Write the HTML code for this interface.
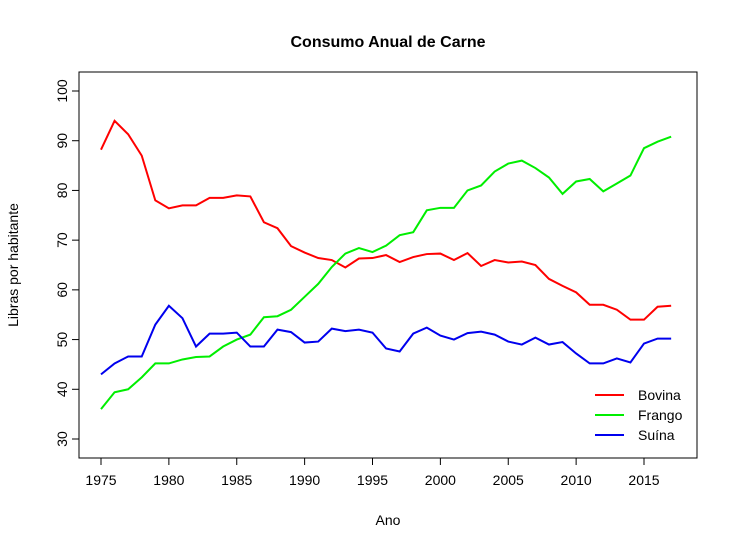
<!DOCTYPE html>
<html><head><meta charset="utf-8"><style>body{margin:0;background:#fff}svg{display:block}text{font-family:"Liberation Sans",Arial,sans-serif;fill:#000}</style></head>
<body>
<svg id="c" width="738" height="550">
<rect width="738" height="550" fill="#fff"/>
<text x="388" y="47" font-size="16" font-weight="bold" text-anchor="middle">Consumo Anual de Carne</text>
<rect x="79" y="72" width="618" height="386" fill="none" stroke="#000" stroke-width="1"/>
<text x="388" y="525" font-size="14" text-anchor="middle">Ano</text>
<text transform="translate(18,265) rotate(-90)" font-size="14" text-anchor="middle">Libras por habitante</text>
<g id="axes"></g><g id="series"></g>
<g>
<line x1="595" y1="395" x2="624" y2="395" stroke="#ff0000" stroke-width="2"/><text x="638" y="400" font-size="14">Bovina</text>
<line x1="595" y1="415" x2="624" y2="415" stroke="#00ee00" stroke-width="2"/><text x="638" y="420" font-size="14">Frango</text>
<line x1="595" y1="435" x2="624" y2="435" stroke="#0000ee" stroke-width="2"/><text x="638" y="440" font-size="14">Suína</text>
</g>
</svg>
<script>
const years=[];for(let y=1975;y<=2017;y++)years.push(y);
const bovina=[88.2,94,91.3,87,78,76.4,77,77,78.5,78.5,79,78.8,73.6,72.4,68.8,67.5,66.4,66,64.5,66.3,66.4,67,65.6,66.6,67.2,67.3,66,67.4,64.8,66,65.5,65.7,65,62.2,60.8,59.5,57,57,56,54,54,56.6,56.8];
const frango=[36,39.4,40,42.4,45.2,45.2,46,46.5,46.6,48.6,50,51,54.5,54.7,56,58.6,61.2,64.6,67.3,68.4,67.6,68.9,71,71.6,76,76.5,76.5,80,81,83.8,85.4,86,84.5,82.6,79.3,81.8,82.3,79.8,81.4,83,88.5,89.8,90.8];
const suina=[43,45.2,46.6,46.6,53,56.8,54.3,48.6,51.2,51.2,51.4,48.6,48.6,52,51.5,49.4,49.6,52.2,51.7,52,51.4,48.2,47.6,51.2,52.4,50.8,50,51.3,51.6,51,49.6,49,50.4,49,49.5,47.2,45.2,45.2,46.2,45.4,49.2,50.2,50.2];
const xTicks=[1975,1980,1985,1990,1995,2000,2005,2010,2015];
const yTicks=[30,40,50,60,70,80,90,100];
const NS="http://www.w3.org/2000/svg";
const X=v=>101+(v-1975)*(543/40);
const Y=v=>439-(v-30)*(348/70);
const ax=document.getElementById('axes'),sr=document.getElementById('series');
function mk(t,a,p){const e=document.createElementNS(NS,t);for(const k in a)e.setAttribute(k,a[k]);p.appendChild(e);return e;}
mk('line',{x1:X(1975),x2:X(2015),y1:458,y2:458,stroke:'#000'},ax);
xTicks.forEach(t=>{mk('line',{x1:X(t),x2:X(t),y1:458,y2:465,stroke:'#000'},ax);
const e=mk('text',{x:X(t),y:485,'font-size':14,'text-anchor':'middle'},ax);e.textContent=t;

});
mk('line',{x1:79,x2:79,y1:Y(30),y2:Y(100),stroke:'#000'},ax);
yTicks.forEach(t=>{mk('line',{x1:72,x2:79,y1:Y(t),y2:Y(t),stroke:'#000'},ax);
const e=mk('text',{transform:`translate(67,${Y(t)}) rotate(-90)`,'font-size':14,'text-anchor':'middle'},ax);e.textContent=t;

});
[[bovina,'#ff0000','line-bovina'],[frango,'#00ee00','line-frango'],[suina,'#0000ee','line-suina']].forEach(([d,c,n])=>{
const p=mk('polyline',{points:d.map((v,i)=>X(years[i])+','+Y(v)).join(' '),fill:'none',stroke:c,'stroke-width':2},sr);

});
</script>
</body></html>
